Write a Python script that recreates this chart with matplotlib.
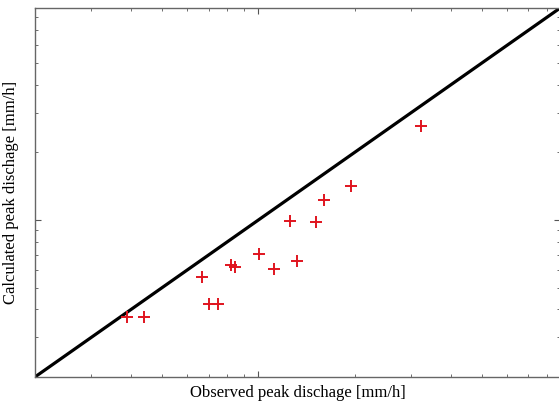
import matplotlib

matplotlib.use("Agg")

import matplotlib.pyplot as plt
from matplotlib.ticker import LogLocator, NullFormatter
import numpy as np

# observed / calculated peak discharge [mm/h]
observed = [3.87, 4.40, 6.64, 7.03, 7.50, 8.23, 8.47, 10.07, 11.2, 12.6, 13.2, 15.1, 16.1, 19.5, 32.3]
calculated = [3.70, 3.70, 5.57, 4.23, 4.23, 6.30, 6.17, 7.06, 6.05, 9.9, 6.56, 9.8, 12.3, 14.2, 26.2]
LIMITS = [2.0, 88.0]

plt.rcParams["font.family"] = ["Liberation Serif", "DejaVu Serif"]

fig = plt.figure(figsize=(5.59, 4.01), dpi=100)
# right spine sits just past the figure edge, as in the cropped original
ax = fig.add_axes([0.0626, 0.06, 0.9394, 0.92])

ax.plot(LIMITS, LIMITS, color="black", lw=2.3, solid_capstyle="butt", zorder=2)
ax.plot(observed, calculated, linestyle="none", marker="+", markersize=9,
        markeredgewidth=1.4, color="#e0141e", zorder=3)

ax.set_xscale("log")
ax.set_yscale("log")
ax.set_xlim(LIMITS)
ax.set_ylim(LIMITS)

for axis in (ax.xaxis, ax.yaxis):
    axis.set_major_locator(LogLocator(base=10))
    axis.set_minor_locator(LogLocator(base=10, subs=np.arange(2, 10)))
    axis.set_major_formatter(NullFormatter())
    axis.set_minor_formatter(NullFormatter())

ax.tick_params(which="both", direction="in", top=True, right=True, color="#555555")
ax.tick_params(which="major", length=4, width=0.8)
ax.tick_params(which="minor", length=2.5, width=0.6)
for sp in ax.spines.values():
    sp.set_color("#666666")
    sp.set_linewidth(1.0)

ax.set_xlabel("Observed peak dischage [mm/h]", fontsize=12, labelpad=2)
ax.set_ylabel("Calculated peak dischage [mm/h]", fontsize=12, labelpad=8)

fig.savefig("out.png", dpi=100)
